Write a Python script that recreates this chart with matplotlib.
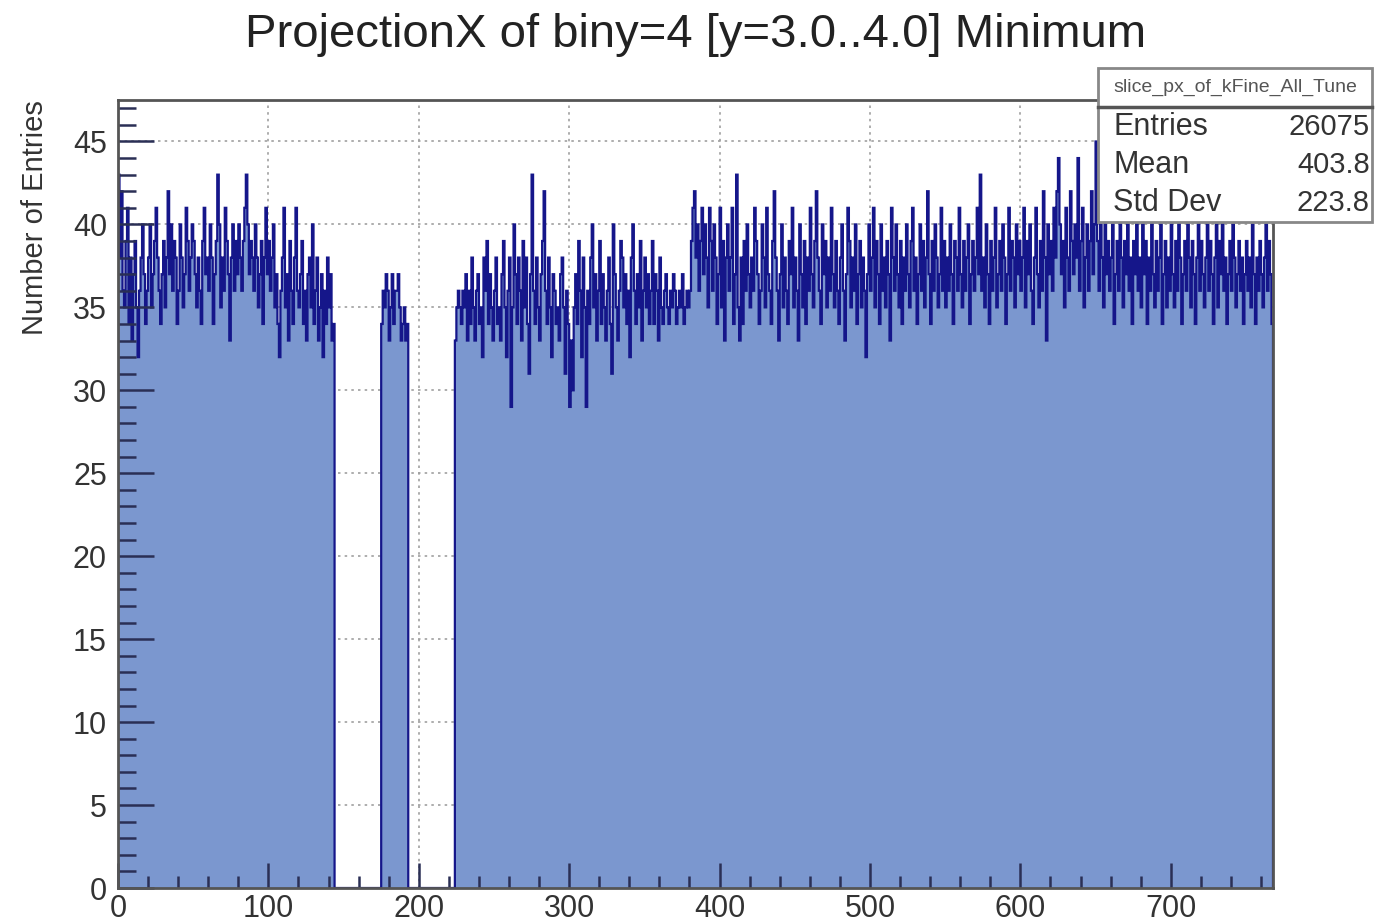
import numpy as np
import matplotlib
matplotlib.use("Agg")
import matplotlib.pyplot as plt
from matplotlib.patches import Rectangle
from matplotlib.lines import Line2D

plt.rcParams['font.family'] = ['Liberation Sans', 'DejaVu Sans']

# histogram: 768 bins of width 1, three filled regions
n_bins = 768

start_a = 0
counts_a = [
    43, 38, 42, 36, 35, 39, 41, 34, 38, 33,
    37, 39, 35, 32, 36, 38, 40, 37, 34, 36,
    38, 40, 35, 37, 39, 41, 38, 36, 34, 37,
    39, 35, 38, 42, 37, 40, 36, 39, 38, 34,
    36, 40, 38, 35, 37, 41, 39, 36, 38, 40,
    39, 37, 35, 38, 36, 34, 39, 41, 37, 38,
    36, 40, 38, 34, 37, 39, 43, 40, 35, 38,
    36, 41, 39, 37, 33, 38, 40, 36, 39, 37,
    40, 38, 36, 39, 41, 43, 40, 37, 39, 38,
    36, 40, 38, 35, 37, 39, 34, 38, 41, 37,
    39, 36, 38, 40, 35, 37, 34, 32, 36, 38,
    41, 35, 37, 33, 39, 36, 34, 38, 41, 36,
    35, 37, 39, 34, 36, 33, 37, 38, 35, 40,
    34, 36, 38, 33, 35, 37, 32, 36, 34, 38,
    35, 37, 33, 34,
]

start_b = 175
counts_b = [34, 36, 35, 37, 36, 33, 35, 37, 34, 36, 36, 37, 35, 33, 34, 35, 33, 34]

start_c = 224
counts_c = [
    33, 35, 36, 35, 34, 36, 35, 37, 33, 36, 34, 38, 35, 33, 36, 37, 34, 35, 32, 38, 36, 39, 34, 37, 35, 33,
    36, 38, 34, 35, 33, 37, 39, 35, 32, 36, 38, 29, 35, 40, 37, 34, 38, 36, 33, 39, 35, 38, 34, 31, 37,
    43, 36, 34, 38, 35, 33, 37, 39, 42, 36, 34, 38, 35, 32, 37, 36, 34, 35, 33, 37, 38, 35, 31, 36, 34,
    29, 33, 30, 35, 37, 34, 39, 36, 32, 38, 35, 29, 36, 34, 38, 40, 35, 37, 33, 36, 39, 34, 37, 35, 33,
    36, 38, 34, 31, 40, 37, 35, 33, 36, 39, 38, 35, 37, 34, 36, 32, 38, 40, 36, 34, 37, 35, 39, 33, 36,
    38, 35, 37, 34, 36, 39, 34, 37, 36, 33, 38, 35, 34, 36, 37, 35, 34, 36, 35, 37, 36, 34, 35, 36, 35,
    37, 34, 35, 36, 35, 36, 39, 41, 42, 38, 40, 36, 39, 41, 37, 40, 38, 35, 41, 39, 36, 40, 38, 34, 37,
    41, 35, 39, 33, 38, 40, 36, 38, 41, 34, 37, 43, 35, 33, 38, 34, 39, 36, 40, 37, 35, 38, 36, 41, 39,
    37, 34, 36, 40, 38, 35, 41, 37, 36, 34, 39, 42, 38, 36, 33, 37, 40, 35, 38, 36, 34, 39, 37, 41, 35,
    38, 36, 33, 40, 37, 35, 39, 34, 38, 36, 41, 37, 35, 39, 42, 38, 36, 34, 40, 37, 39, 35, 38, 36, 41,
    37, 35, 39, 36, 34, 38, 40, 36, 33, 37, 41, 39, 35, 38, 36, 40, 34, 37, 39, 35, 38, 36, 32, 37, 40,
    36, 38, 41, 35, 39, 37, 34, 40, 36, 38, 35, 39, 37, 33, 41, 38, 36, 40, 37, 35, 39, 34, 38, 36, 40,
    37, 35, 39, 41, 36, 38, 34, 37, 40, 36, 39, 35, 38, 42, 37, 34, 39, 36, 40, 38, 35, 37, 41, 36, 39,
    35, 38, 36, 40, 37, 34, 39, 38, 36, 41, 37, 35, 39, 36, 38, 40, 34, 37, 39, 36, 38, 41, 37, 43, 36,
    38, 35, 40, 37, 34, 39, 36, 38, 41, 35, 37, 39, 36, 40, 38, 34, 37, 41, 36, 39, 38, 35, 40, 37, 39,
    36, 38, 41, 35, 39, 37, 40, 36, 34, 38, 41, 37, 35, 39, 36, 42, 38, 33, 40, 37, 39, 36, 41, 38, 42,
    44, 40, 37, 39, 35, 41, 38, 36, 42, 39, 37, 40, 38, 44, 36, 39, 41, 35, 38, 40, 36, 39, 42, 37, 40,
    45, 39, 36, 40, 38, 35, 41, 37, 39, 36, 38, 40, 34, 37, 39, 36, 41, 38, 35, 39, 37, 40, 36, 38, 34,
    39, 37, 41, 36, 38, 35, 40, 37, 39, 34, 38, 36, 41, 37, 35, 39, 36, 38, 40, 34, 37, 39, 35, 38, 36,
    40, 37, 35, 39, 36, 41, 38, 34, 37, 39, 36, 40, 38, 35, 39, 37, 34, 38, 41, 36, 39, 37, 35, 38, 40,
    36, 39, 37, 34, 38, 40, 35, 39, 37, 41, 36, 38, 34, 37, 39, 36, 40, 38, 35, 37, 39, 36, 38, 34, 37,
    39, 36, 38, 35, 40, 37, 34, 38, 36, 39, 37, 35, 38, 40, 36, 39, 37, 34,
]

title = "ProjectionX of biny=4 [y=3.0..4.0] Minimum"
y_title = "Number of Entries"
stats_name = "slice_px_of_kFine_All_Tune"
stats_rows = [("Entries", "26075"), ("Mean", "403.8"), ("Std Dev", "223.8")]

fill_color = "#7b97cf"
line_color = "#15168a"

counts = np.zeros(n_bins)
for s, vals in [(start_a, counts_a), (start_b, counts_b), (start_c, counts_c)]:
    counts[s:s + len(vals)] = vals
edges = np.arange(n_bins + 1)

fig = plt.figure(figsize=(13.75, 9.21), dpi=100)
ax = fig.add_axes([118 / 1375, 1 - 888 / 921, 1155 / 1375, 788 / 921])

ax.stairs(counts, edges, fill=True, color=fill_color, zorder=2)
ax.stairs(counts, edges, color=line_color, linewidth=1.6, zorder=3)

ax.set_xlim(0, n_bins)
ax.set_ylim(0, 47.5)

xmajor = np.arange(0, 701, 100)
ymajor = np.arange(0, 46, 5)
ax.set_xticks(xmajor)
ax.set_xticks(np.arange(0, 761, 20), minor=True)
ax.set_yticks(ymajor)
ax.set_yticks(np.arange(0, 48, 1), minor=True)

# dotted grid, below the histogram
grid_kw = dict(color='#a0a0a0', linestyle=(0, (1.5, 2.5)), linewidth=1.2, zorder=1)
for xv in xmajor[1:]:
    ax.axvline(xv, **grid_kw)
for yv in ymajor[1:]:
    ax.axhline(yv, **grid_kw)

ax.xaxis.set_zorder(4)
ax.yaxis.set_zorder(4)

ax.tick_params(axis='x', which='major', direction='in', length=18, width=1.8, color='#2a2f55',
               labelsize=22, pad=4, labelcolor='#333333')
ax.tick_params(axis='x', which='minor', direction='in', length=9, width=1.8, color='#2a2f55')
ax.tick_params(axis='y', which='major', direction='in', length=26, width=1.8, color='#2a2f55',
               labelsize=22, pad=8, labelcolor='#333333')
ax.tick_params(axis='y', which='minor', direction='in', length=13, width=1.8, color='#2a2f55')

for sp in ax.spines.values():
    sp.set_color('#555555')
    sp.set_linewidth(2)
    sp.set_zorder(5)

fig.text(696 / 1375, 1 - 35 / 921, title, ha='center', va='center', fontsize=34, color='#222222')
fig.text(35 / 1375, 1 - 100 / 921, y_title, rotation=90, ha='center', va='top', fontsize=21,
         color='#333333')

# stats box
bx0, bx1, by0, by1 = 1098, 1372, 68, 222
fig.patches.append(Rectangle((bx0 / 1375, 1 - by1 / 921), (bx1 - bx0) / 1375, (by1 - by0) / 921,
                             transform=fig.transFigure, facecolor='white', edgecolor='#888888',
                             linewidth=2, zorder=10))
fig.lines.append(Line2D([bx0 / 1375, bx1 / 1375], [1 - 107 / 921, 1 - 107 / 921],
                        transform=fig.transFigure, color='#555555', linewidth=2.5, zorder=11))
fig.text((bx0 + bx1) / 2 / 1375, 1 - 87 / 921, stats_name, ha='center', va='center',
         fontsize=14, color='#555555', zorder=12)
for i, (k, v) in enumerate(stats_rows):
    yy = 1 - (127 + 38 * i) / 921
    fig.text(1113 / 1375, yy, k, ha='left', va='center', fontsize=22, color='#333333', zorder=12)
    fig.text(1370 / 1375, yy, v, ha='right', va='center', fontsize=21, color='#333333', zorder=12)

fig.savefig("out.png", dpi=100)
